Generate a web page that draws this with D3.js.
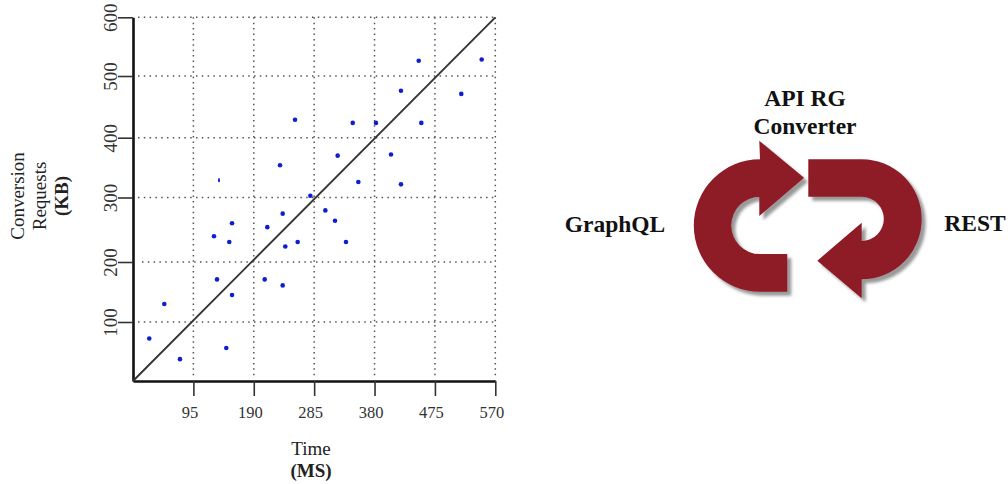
<!DOCTYPE html>
<html>
<head>
<meta charset="utf-8">
<script src="https://cdn.jsdelivr.net/npm/d3@7"></script>
<style>
    html, body { margin: 0; padding: 0; background: #fff; }
    svg { display: block; }
    text { font-family: "Liberation Serif", serif; }
</style>
</head>
<body>
<script>
// Scatter values
var timeMs = [135.3, 155.8, 127.4, 151.5, 132.2, 155.8, 49.2, 25.6, 146.8, 73.9, 449.5,
    548.6, 421.6, 516.5, 254.9, 345.7, 382.3, 453.6, 322, 405.9, 231.3, 354.5, 421.6,
    279, 302.6, 235.5, 317.8, 211.3, 239.6, 259.1, 335.1, 207.2, 235.5];
var requestsKb = [329, 260, 240, 231, 171, 145, 130, 72, 56, 37, 526,
    528, 476, 471, 429, 424, 424, 424, 370, 372, 354, 326, 322,
    303, 280, 275, 264, 254, 224, 231, 231, 171, 161];
var xTicks = [95, 190, 285, 380, 475, 570];
var yTicks = [100, 200, 300, 400, 500, 600];
var xTitle = ['Time', '(MS)'];
var yTitle = ['Conversion', 'Requests', '(KB)'];

var width = 1008,
    height = 484,
    arrowRed = '#8e1b28';

var svg = d3.select('body').append('svg')
    .attr('width', width)
    .attr('height', height);

var x = d3.scaleLinear().domain([0, 570]).range([133, 495.3]);
// the scan is a little uneven, so the y axis is stepped tick by tick
var y = d3.scaleLinear()
    .domain([0, 100, 200, 300, 400, 500, 600])
    .range([381, 322, 262, 197.5, 137.7, 76, 17.3]);

// dotted grid
svg.append('g').selectAll('line')
    .data(xTicks)
    .enter().append('line')
    .attr('x1', function(d) { return x(d); })
    .attr('x2', function(d) { return x(d); })
    .attr('y1', y(600))
    .attr('y2', 377)
    .attr('stroke', '#555')
    .attr('stroke-width', 1.5)
    .attr('stroke-dasharray', '1.5 3.9');

svg.append('g').selectAll('line')
    .data(yTicks)
    .enter().append('line')
    .attr('x1', function(d) { return d === 200 ? 142 : 138; })
    .attr('x2', x(570))
    .attr('y1', function(d) { return y(d); })
    .attr('y2', function(d) { return y(d); })
    .attr('stroke', '#555')
    .attr('stroke-width', 1.5)
    .attr('stroke-dasharray', '1.5 4.3');

// axes
var xAxis = svg.append('g')
    .attr('transform', 'translate(0,' + y(0) + ')')
    .call(d3.axisBottom(x).tickValues(xTicks).tickSize(15).tickSizeOuter(0));

var yAxis = svg.append('g')
    .attr('transform', 'translate(' + x(0) + ',0)')
    .call(d3.axisLeft(y).tickValues(yTicks).tickSize(15).tickSizeOuter(0));

xAxis.select('.domain').attr('stroke', '#111').attr('stroke-width', 2.6);
yAxis.select('.domain').attr('stroke', '#111').attr('stroke-width', 2.6);
svg.selectAll('.tick line').attr('stroke', '#333').attr('stroke-width', 1.6);

xAxis.selectAll('text')
    .attr('y', 0)
    .attr('dy', 0)
    .attr('transform', 'translate(-4,37)')
    .attr('fill', '#333')
    .style('font-size', '16.5px')
    .style('font-family', '"Liberation Serif", serif');

yAxis.selectAll('text')
    .attr('x', 0)
    .attr('dy', 0)
    .attr('text-anchor', 'middle')
    .attr('transform', 'translate(-16.5,0) rotate(-90)')
    .attr('fill', '#333')
    .style('font-size', '19px')
    .style('font-family', '"Liberation Serif", serif');

// identity line
svg.append('line')
    .attr('x1', x(0))
    .attr('y1', y(0))
    .attr('x2', x(570))
    .attr('y2', y(600))
    .attr('stroke', '#333')
    .attr('stroke-width', 1.9);

// points, the first one is squashed in the original
svg.append('g').selectAll('ellipse')
    .data(timeMs)
    .enter().append('ellipse')
    .attr('cx', function(d) { return x(d); })
    .attr('cy', function(d, i) { return y(requestsKb[i]); })
    .attr('rx', function(d, i) { return i === 0 ? 1 : 2.3; })
    .attr('ry', function(d, i) { return i === 0 ? 2.2 : 2.3; })
    .attr('fill', '#0f1fd0');

// axis titles
svg.append('g').selectAll('text')
    .data(xTitle)
    .enter().append('text')
    .attr('x', 311)
    .attr('y', function(d, i) { return 455 + i * 22; })
    .attr('text-anchor', 'middle')
    .attr('fill', '#222')
    .attr('font-size', 19)
    .attr('font-weight', function(d, i) { return i === 1 ? 'bold' : 'normal'; })
    .text(function(d) { return d; });

svg.append('g').selectAll('text')
    .data(yTitle)
    .enter().append('text')
    .attr('transform', function(d, i) { return 'translate(' + (24 + i * 22) + ',196) rotate(-90)'; })
    .attr('text-anchor', 'middle')
    .attr('fill', '#222')
    .attr('font-size', 19)
    .attr('font-weight', function(d, i) { return i === 2 ? 'bold' : 'normal'; })
    .text(function(d) { return d; });

// converter arrows
var defs = svg.append('defs');
var shadow = defs.append('filter')
    .attr('id', 'arrow-shadow')
    .attr('x', '-20%').attr('y', '-20%')
    .attr('width', '140%').attr('height', '140%');
shadow.append('feDropShadow')
    .attr('dx', 4)
    .attr('dy', 4)
    .attr('stdDeviation', 1.6)
    .attr('flood-color', '#000')
    .attr('flood-opacity', 0.4);

var leftArrow = d3.path();
leftArrow.moveTo(787.3, 291.7);
leftArrow.lineTo(760, 291.7);
leftArrow.arc(760, 225.5, 66.2, Math.PI / 2, -Math.PI / 2);
leftArrow.lineTo(759.3, 140.7);
leftArrow.lineTo(804, 177.7);
leftArrow.lineTo(759.3, 216);
leftArrow.lineTo(759.3, 196.7);
leftArrow.arc(760, 225.4, 28.7, -Math.PI / 2, Math.PI / 2, true);
leftArrow.lineTo(787.3, 254);
leftArrow.closePath();

var rightArrow = d3.path();
rightArrow.moveTo(808.3, 159.3);
rightArrow.lineTo(861.7, 159.3);
rightArrow.arc(861.7, 219.3, 60, -Math.PI / 2, Math.PI / 2);
rightArrow.lineTo(861.7, 298.3);
rightArrow.lineTo(817.3, 260.7);
rightArrow.lineTo(861.7, 222.7);
rightArrow.lineTo(861.7, 241);
rightArrow.arc(861.7, 218.9, 22.1, Math.PI / 2, -Math.PI / 2, true);
rightArrow.lineTo(808.3, 196.7);
rightArrow.closePath();

svg.append('g')
    .attr('filter', 'url(#arrow-shadow)')
    .selectAll('path')
    .data([leftArrow.toString(), rightArrow.toString()])
    .enter().append('path')
    .attr('d', function(d) { return d; })
    .attr('fill', arrowRed);

// diagram labels
var labels = [
    { text: 'API RG', x: 805, y: 106 },
    { text: 'Converter', x: 805, y: 134 },
    { text: 'GraphQL', x: 615, y: 232 },
    { text: 'REST', x: 975, y: 231 }
];

svg.append('g').selectAll('text')
    .data(labels)
    .enter().append('text')
    .attr('x', function(d) { return d.x; })
    .attr('y', function(d) { return d.y; })
    .attr('text-anchor', 'middle')
    .attr('fill', '#111')
    .attr('font-size', 23.5)
    .attr('font-weight', 'bold')
    .text(function(d) { return d.text; });
</script>
</body>
</html>
